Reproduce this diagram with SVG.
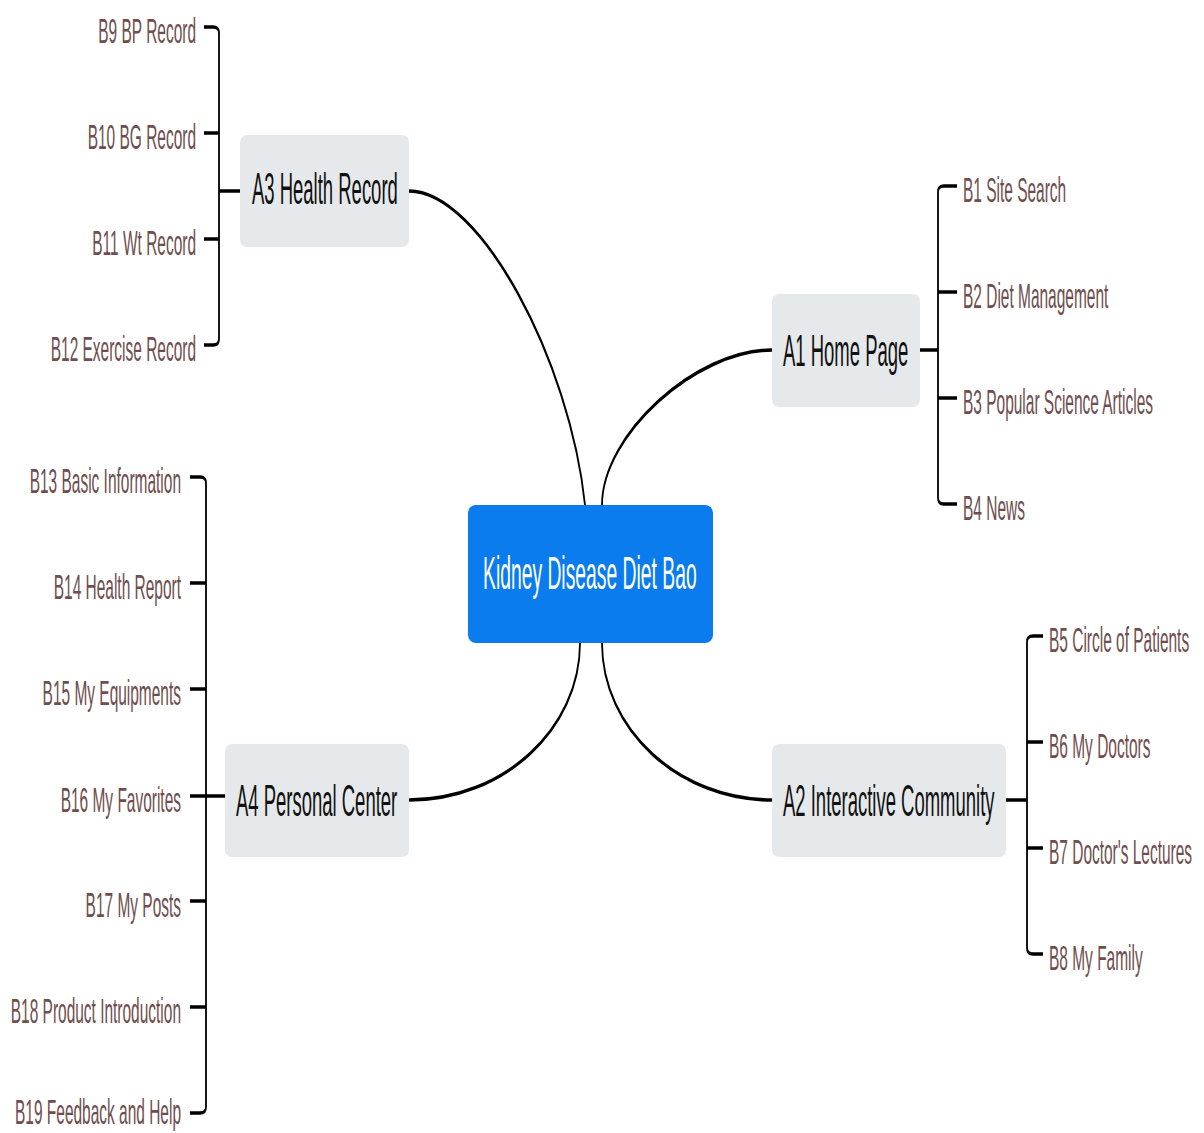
<svg xmlns="http://www.w3.org/2000/svg" width="1204" height="1133" viewBox="0 0 1204 1133">
<style>
.bg{fill:#ffffff}
.node{fill:#e6e9ec}
.root{fill:#0b7cee}
.nt{font-family:"Liberation Sans",Arial,sans-serif;font-size:44px;fill:#111111}
.rt{font-family:"Liberation Sans",Arial,sans-serif;font-size:46px;fill:#ffffff}
.lb{font-family:"Liberation Sans",Arial,sans-serif;font-size:36px;fill:#6e4e4e}
.end{text-anchor:end}
.ln{fill:none;stroke:#000000;stroke-width:3.6;stroke-linecap:butt;stroke-linejoin:round}
</style>
<rect class="bg" x="0" y="0" width="1204" height="1133"/>
<g id="connectors" transform="scale(0.5 1)">
  <path class="ln" d="M 818 191 C 960 191, 1140 360, 1170 505"/>
  <path class="ln" d="M 1204 505 C 1204 435, 1391 350, 1544 350"/>
  <path class="ln" d="M 1204 643 C 1204 729, 1357 800, 1544 800"/>
  <path class="ln" d="M 1160 643 C 1160 729, 1007 800, 818 800"/>
  <path class="ln" d="M 408 27 H 426 Q 438 27 438 33 V 339 Q 438 345 426 345 H 408"/>
  <path class="ln" d="M 408 133 H 438 M 408 239 H 438 M 438 191 H 480"/>
  <path class="ln" d="M 1914 186 H 1888 Q 1876 186 1876 192 V 498 Q 1876 504 1888 504 H 1914"/>
  <path class="ln" d="M 1914 292 H 1876 M 1914 398 H 1876 M 1840 350 H 1876"/>
  <path class="ln" d="M 2086 636 H 2066 Q 2054 636 2054 642 V 948 Q 2054 954 2066 954 H 2086"/>
  <path class="ln" d="M 2086 742 H 2054 M 2086 848 H 2054 M 2012 800 H 2054"/>
  <path class="ln" d="M 380 477 H 400 Q 412 477 412 483 V 1107 Q 412 1113 400 1113 H 380"/>
  <path class="ln" d="M 380 583 H 412 M 380 689 H 412 M 380 796 H 450 M 380 901 H 412 M 380 1007 H 412"/>
</g>
<g id="root">
  <rect class="root" x="468" y="505" width="245" height="138" rx="8"/>
  <text class="rt" transform="translate(483 589) scale(0.42 1)">Kidney Disease Diet Bao</text>
</g>
<g id="A1">
  <rect class="node" x="772" y="294" width="148" height="113" rx="7"/>
  <text class="nt" transform="translate(783 366) scale(0.42 1)">A1 Home Page</text>
</g>
<g id="A2">
  <rect class="node" x="772" y="744" width="234" height="113" rx="7"/>
  <text class="nt" transform="translate(783 816) scale(0.42 1)">A2 Interactive Community</text>
</g>
<g id="A3">
  <rect class="node" x="240" y="135" width="169" height="112" rx="7"/>
  <text class="nt" transform="translate(252 204) scale(0.42 1)">A3 Health Record</text>
</g>
<g id="A4">
  <rect class="node" x="225" y="744" width="184" height="113" rx="7"/>
  <text class="nt" transform="translate(236 816) scale(0.42 1)">A4 Personal Center</text>
</g>
<g id="B1"><text class="lb" transform="translate(963 202) scale(0.43 1)">B1 Site Search</text></g>
<g id="B2"><text class="lb" transform="translate(963 308) scale(0.43 1)">B2 Diet Management</text></g>
<g id="B3"><text class="lb" transform="translate(963 414) scale(0.43 1)">B3 Popular Science Articles</text></g>
<g id="B4"><text class="lb" transform="translate(963 520) scale(0.43 1)">B4 News</text></g>
<g id="B5"><text class="lb" transform="translate(1049 652) scale(0.43 1)">B5 Circle of Patients</text></g>
<g id="B6"><text class="lb" transform="translate(1049 758) scale(0.43 1)">B6 My Doctors</text></g>
<g id="B7"><text class="lb" transform="translate(1049 864) scale(0.43 1)">B7 Doctor's Lectures</text></g>
<g id="B8"><text class="lb" transform="translate(1049 970) scale(0.43 1)">B8 My Family</text></g>
<g id="B9"><text class="lb end" transform="translate(196 43) scale(0.43 1)">B9 BP Record</text></g>
<g id="B10"><text class="lb end" transform="translate(196 149) scale(0.43 1)">B10 BG Record</text></g>
<g id="B11"><text class="lb end" transform="translate(196 255) scale(0.43 1)">B11 Wt Record</text></g>
<g id="B12"><text class="lb end" transform="translate(196 361) scale(0.43 1)">B12 Exercise Record</text></g>
<g id="B13"><text class="lb end" transform="translate(181 493) scale(0.43 1)">B13 Basic Information</text></g>
<g id="B14"><text class="lb end" transform="translate(181 599) scale(0.43 1)">B14 Health Report</text></g>
<g id="B15"><text class="lb end" transform="translate(181 705) scale(0.43 1)">B15 My Equipments</text></g>
<g id="B16"><text class="lb end" transform="translate(181 812) scale(0.43 1)">B16 My Favorites</text></g>
<g id="B17"><text class="lb end" transform="translate(181 917) scale(0.43 1)">B17 My Posts</text></g>
<g id="B18"><text class="lb end" transform="translate(181 1023) scale(0.43 1)">B18 Product Introduction</text></g>
<g id="B19"><text class="lb end" transform="translate(181 1124) scale(0.43 1)">B19 Feedback and Help</text></g>
</svg>
